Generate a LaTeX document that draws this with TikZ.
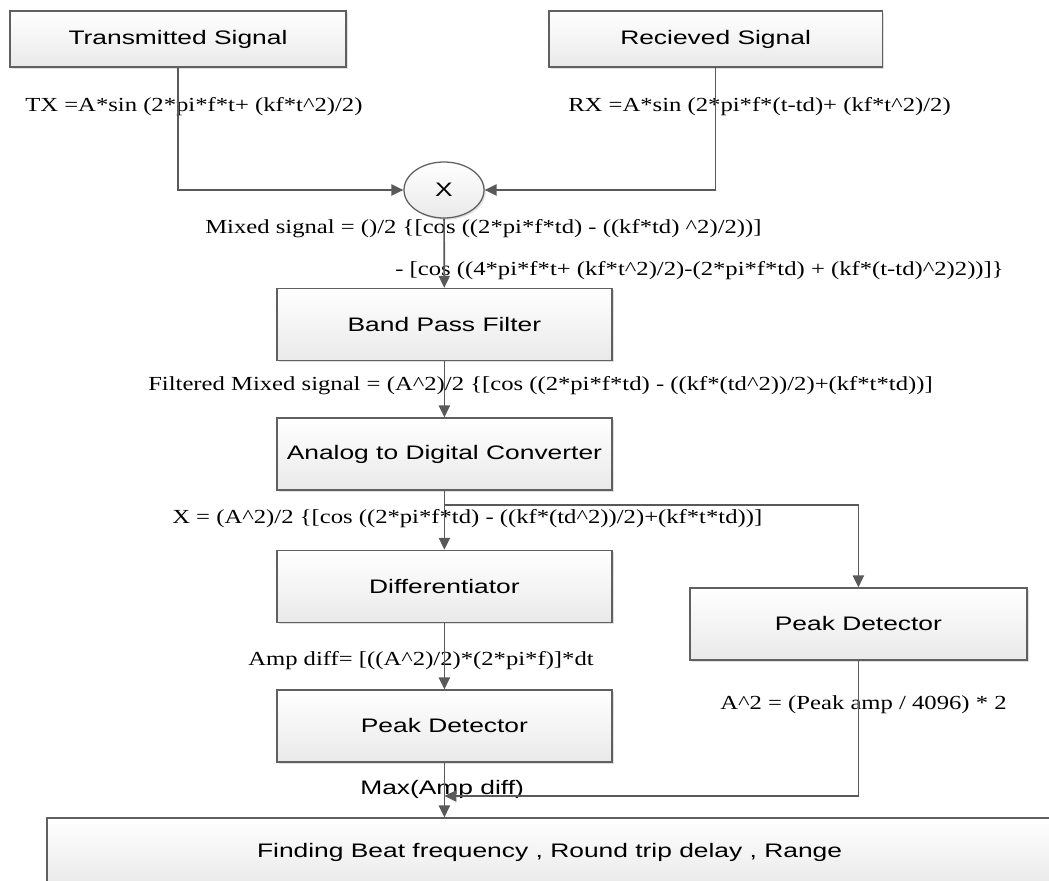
\documentclass[tikz,border=0pt]{standalone}
\usepackage{fontspec}
\setmainfont{Liberation Serif}[FakeStretch=1.235]
\newfontfamily\boxfont{Liberation Sans}[FakeStretch=1.35]
\usetikzlibrary{arrows.meta,shapes.geometric,shadows}
\newcommand{\crt}{\textasciicircum}

\begin{document}
\begin{tikzpicture}[
  blk/.style={draw=gray!75!black, line width=0.9pt, top color=white, bottom color=gray!17,
    drop shadow={shadow xshift=1.2pt,shadow yshift=-1.2pt,opacity=0.25},
    minimum width=8.375cm, minimum height=1.8cm,
    font=\boxfont\fontsize{13.9}{16}\selectfont},
  eqn/.style={font=\fontsize{14.2}{16}\selectfont, inner sep=0pt},
  wire/.style={draw=gray!70!black, line width=1.2pt},
  arr/.style={wire, -{Triangle[length=3mm,width=2.8mm]}}
]
\useasboundingbox (0,0) rectangle (26.225,-22.025);
\node[blk, minimum width=8.4cm, minimum height=1.4cm] (tx) at (4.45,-0.975) {Transmitted Signal};
\node[blk, minimum width=8.33cm, minimum height=1.4cm] (rx) at (17.89,-0.975) {Recieved Signal};
\node[blk, ellipse, minimum width=2cm, minimum height=1.4cm] (mix) at (11.1,-4.75) {X};
\node[blk] (bpf) at (11.11,-8.11) {Band Pass Filter};
\node[blk] (adc) at (11.11,-11.35) {Analog to Digital Converter};
\node[blk] (dif) at (11.11,-14.66) {Differentiator};
\node[blk] (pdl) at (11.11,-18.15) {Peak Detector};
\node[blk, minimum width=8.425cm] (pdr) at (21.46,-15.6) {Peak Detector};
\node[blk, minimum width=25.125cm, minimum height=1.7cm] (out) at (13.74,-21.3) {Finding Beat frequency , Round trip delay , Range};

\node[eqn] (txeq) at (0.625,-2.675)[right]{TX =A*sin (2*pi*f*t+ (kf*t\crt2)/2)};
\node[eqn] (rxeq) at (14.2,-2.675)[right]{RX =A*sin (2*pi*f*(t-td)+ (kf*t\crt2)/2)};
\node[eqn] (mixeq) at (5.125,-5.725)[right]{Mixed signal = ()/2 \{[cos ((2*pi*f*td) - ((kf*td) \crt2)/2))]};
\node[eqn] (mixeqb) at (9.875,-6.775)[right]{- [cos ((4*pi*f*t+ (kf*t\crt2)/2)-(2*pi*f*td) + (kf*(t-td)\crt2)2))]\}};
\node[eqn] (filteq) at (3.7,-9.65)[right]{Filtered Mixed signal = (A\crt2)/2 \{[cos ((2*pi*f*td) - ((kf*(td\crt2))/2)+(kf*t*td))]};
\node[eqn] (xeq) at (4.3,-12.975)[right]{X = (A\crt2)/2 \{[cos ((2*pi*f*td) - ((kf*(td\crt2))/2)+(kf*t*td))]};
\node[eqn] (diffeq) at (6.2,-16.525)[right]{Amp diff= [((A\crt2)/2)*(2*pi*f)]*dt};
\node[eqn] (a2eq) at (18.0,-17.625)[right]{A\crt2 = (Peak amp / 4096) * 2};
\node[eqn, font=\boxfont\fontsize{13.9}{16}\selectfont] (maxeq) at (9.0,-19.725)[right]{Max(Amp diff)};

\coordinate (split) at (11.11,-12.625);
\coordinate (join) at (11.11,-19.9);
\draw[arr] (tx) |- (mix);
\draw[arr] (rx) |- (mix);
\draw[arr] (mix) -- (bpf);
\draw[arr] (bpf) -- (adc);
\draw[arr] (adc) -- (dif);
\draw[arr] (split) -| (pdr);
\draw[arr] (dif) -- (pdl);
\draw[arr] (pdl) -- (pdl.south |- out.north);
\draw[arr] (pdr) |- (join);
\end{tikzpicture}
\end{document}
